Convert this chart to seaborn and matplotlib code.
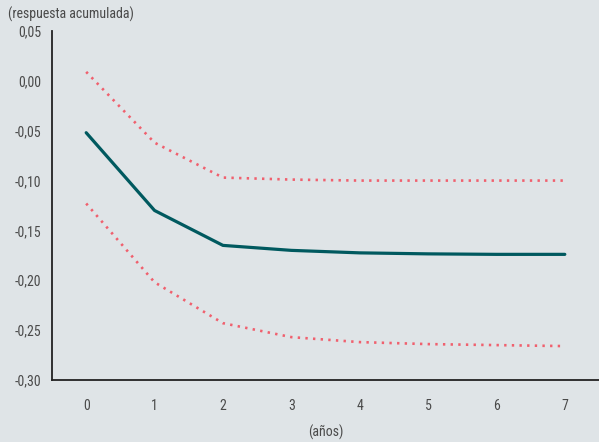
import pandas as pd
import matplotlib.pyplot as plt
import seaborn as sns

# Daten
anios = [0, 1, 2, 3, 4, 5, 6, 7]
respuesta = [-0.052, -0.130, -0.165, -0.170, -0.1725, -0.1735, -0.174, -0.174]
banda_sup = [0.009, -0.062, -0.097, -0.099, -0.100, -0.100, -0.100, -0.100]
banda_inf = [-0.123, -0.202, -0.243, -0.257, -0.262, -0.264, -0.265, -0.266]
y_ticks = [0.05, 0.00, -0.05, -0.10, -0.15, -0.20, -0.25, -0.30]

df = pd.DataFrame({"anio": anios, "resp": respuesta, "sup": banda_sup, "inf": banda_inf})

fondo = "#dfe4e7"
texto = "#4a4a4a"
sns.set_theme(style="white")
plt.rcParams["font.family"] = ["Roboto Condensed", "Liberation Sans", "DejaVu Sans"]

fig = plt.figure(figsize=(5.99, 4.42), dpi=100, facecolor=fondo)
ax = fig.add_axes([52 / 599, 62 / 442, 1 - 52 / 599, (380 - 31) / 442])
ax.set_facecolor(fondo)

sns.lineplot(data=df, x="anio", y="sup", ax=ax, color="#f0606e", linewidth=1.9)
sns.lineplot(data=df, x="anio", y="inf", ax=ax, color="#f0606e", linewidth=1.9)
sns.lineplot(data=df, x="anio", y="resp", ax=ax, color="#00595f", linewidth=2.3)
for l in ax.lines[:2]:
    l.set_linestyle((0, (0.9, 2.0)))

ax.set_xlim(-0.5, 7.5)
ax.set_ylim(-0.30, 0.05)
ax.set_yticks(y_ticks)
ax.set_yticklabels([f"{v:.2f}".replace(".", ",") for v in y_ticks])
ax.set_xticks(anios)
ax.set_xticklabels([str(a) for a in anios])
ax.set_xticks([a + 0.5 for a in anios[:-1]], minor=True)
ax.tick_params(axis="x", which="major", length=0, pad=14, labelsize=10, labelcolor=texto)
ax.tick_params(axis="x", which="minor", direction="in", length=6, width=1.2, color="#222222")
ax.tick_params(axis="y", direction="in", length=6, width=1.2, color="#222222",
               labelsize=10, labelcolor=texto, pad=8)

for s in ["top", "right"]:
    ax.spines[s].set_visible(False)
for s in ["left", "bottom"]:
    ax.spines[s].set_color("#222222")
    ax.spines[s].set_linewidth(1.3)

ax.set_xlabel("")
ax.set_ylabel("")
fig.text(8 / 599, 1 - 14 / 442, "(respuesta acumulada)", fontsize=10, color=texto,
         va="center", ha="left")
fig.text(326 / 599, 1 - 432 / 442, "(años)", fontsize=10, color=texto,
         va="center", ha="center")

fig.savefig("out.png", dpi=100, facecolor=fondo)
